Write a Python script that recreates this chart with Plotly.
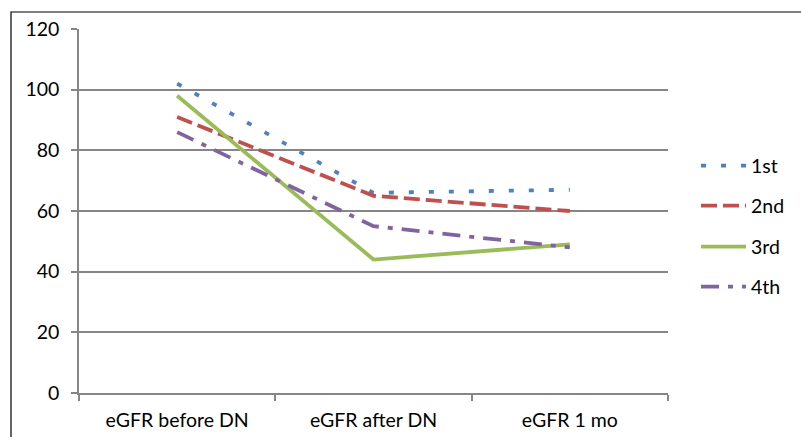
import plotly.graph_objects as go

categories = ["eGFR before DN", "eGFR after DN", "eGFR 1 mo"]
first = [102, 66, 67]
second = [91, 65, 60]
third = [98, 44, 49]
fourth = [86, 55, 48]
series_names = ["1st", "2nd", "3rd", "4th"]
y_ticks = [0, 20, 40, 60, 80, 100, 120]

colors = ["#4F81BD", "#C0504D", "#9BBB59", "#8064A2"]
dashes = ["5px,15px", "16px,6px", "solid", "18px,9px,5px,9px"]
legend_rows = [166, 206, 247, 287]

W, H = 801, 437
L, R, T, B = 79, 668, 29, 393
pw, ph = R - L, B - T

fig = go.Figure()
legend_ids = ["legend", "legend2", "legend3", "legend4"]
for name, vals, c, d, lid in zip(series_names, [first, second, third, fourth], colors, dashes, legend_ids):
    fig.add_trace(go.Scatter(x=categories, y=vals, name=name, mode="lines", legend=lid,
                             line=dict(color=c, width=3.8, dash=d)))

legend_layout = {}
for lid, yc in zip(legend_ids, legend_rows):
    legend_layout[lid] = dict(x=(696 - L) / pw, y=1 - (yc - T) / ph,
                              xanchor="left", yanchor="middle",
                              font=dict(size=19.5), itemwidth=45,
                              bgcolor="rgba(0,0,0,0)")

fig.update_layout(
    width=W, height=H,
    margin=dict(l=L, r=W - R, t=T, b=H - B, autoexpand=False),
    paper_bgcolor="white", plot_bgcolor="white",
    font=dict(family="Lato, 'Open Sans', sans-serif", size=19.5, color="#000000"),
    showlegend=True,
    xaxis=dict(type="category", range=[-0.5, 2.5], showgrid=False, automargin=False,
               showline=True, linecolor="#868686", linewidth=1.5,
               ticks="outside", ticklen=6, tickcolor="#868686", tickwidth=1.5,
               tickson="boundaries", ticklabelstandoff=9, fixedrange=True),
    yaxis=dict(range=[0, 120], tickvals=y_ticks, showgrid=True, automargin=False,
               gridcolor="#868686", gridwidth=1.5,
               showline=True, linecolor="#868686", linewidth=1.5,
               ticks="outside", ticklen=6, tickcolor="#868686", tickwidth=1.5,
               zeroline=False, ticklabelstandoff=8, fixedrange=True),
    shapes=[dict(type="rect", xref="paper", yref="paper",
                 x0=(11 - L) / pw, x1=(W + 20 - L) / pw,
                 y0=-(H + 20 - B) / ph, y1=1 + (T - 12) / ph,
                 line=dict(color="#000000", width=1.2), layer="below")],
    **legend_layout,
)

fig.write_html("out.html", config={"displayModeBar": False},
               post_script="document.body.style.margin='0';document.body.style.overflow='hidden';")
